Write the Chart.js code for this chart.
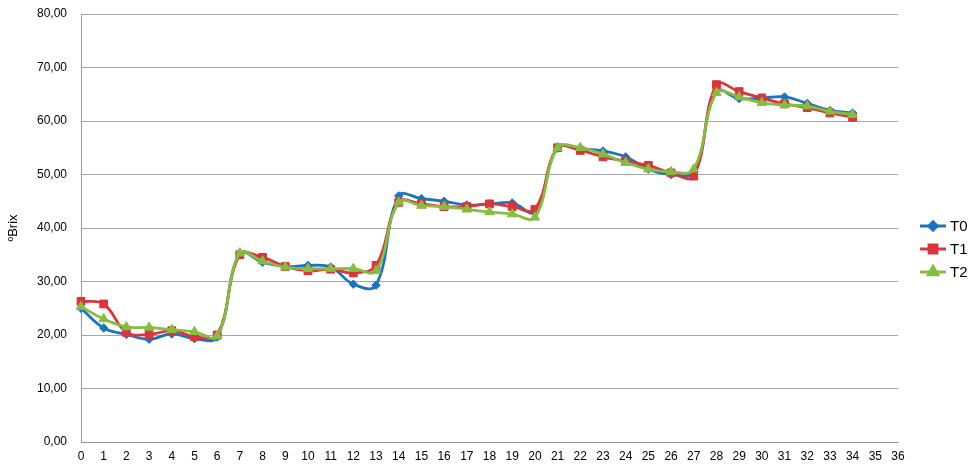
<!DOCTYPE html>
<html>
<head>
<meta charset="utf-8">
<script src="https://cdn.jsdelivr.net/npm/chart.js@4.4.0/dist/chart.umd.min.js"></script>
<style>
html,body{margin:0;padding:0;background:#fff;}
#wrap{width:979px;height:467px;position:relative;}
</style>
</head>
<body>
<div id="wrap"><canvas id="c" width="979" height="467"></canvas></div>
<script>
const categories = ['0','1','2','3','4','5','6','7','8','9','10','11','12','13','14','15','16','17','18','19','20','21','22','23','24','25','26','27','28','29','30','31','32','33','34','35','36'];
const seriesNames = ['T0','T1','T2'];
const t0 = [25.0,21.3,20.1,19.2,20.2,19.3,19.6,35.3,33.6,32.8,33.0,32.7,29.5,29.3,46.0,45.5,45.0,44.3,44.5,44.7,43.0,55.0,54.8,54.4,53.3,51.0,50.0,50.5,65.5,64.2,64.3,64.5,63.3,62.0,61.5];
const t1 = [26.3,25.8,20.5,20.1,20.8,19.7,20.0,35.0,34.5,32.8,32.0,32.3,31.6,33.0,44.8,44.5,44.0,44.0,44.5,44.0,43.5,55.0,54.5,53.3,52.5,51.7,50.3,49.7,66.8,65.5,64.3,63.2,62.5,61.5,60.7];
const t2 = [25.3,23.0,21.5,21.4,21.0,20.6,19.8,35.3,33.8,32.7,32.4,32.4,32.4,32.0,44.8,44.2,44.0,43.5,43.0,42.6,42.0,55.0,55.0,53.8,52.2,51.0,50.5,51.0,65.3,64.5,63.4,63.0,62.8,61.8,61.2];
const yMin = 0, yMax = 80, yStep = 10;
const yTitle = 'ºBrix';

const colors = ['#1d74bd','#d8353d','#86bd41'];
const styles = ['rectRot','rect','triangle'];
const radii = [4.2,5.5,5.5];
const orders = [3,2,1];
const allData = [t0,t1,t2];

const legendPlugin = {
  id:'customLegend',
  afterDraw(chart){
    const ctx = chart.ctx;
    const x0 = 920, x1 = 946, tx = 950;
    const ys = [226,249,272];
    chart.data.datasets.forEach((ds,i)=>{
      const y = ys[i];
      ctx.save();
      ctx.strokeStyle = ds.borderColor;
      ctx.lineWidth = 3;
      ctx.beginPath(); ctx.moveTo(x0,y); ctx.lineTo(x1,y); ctx.stroke();
      ctx.fillStyle = ds.borderColor; ctx.strokeStyle = ds.borderColor;
      Chart.helpers.drawPoint(ctx,{pointStyle:ds.pointStyle,radius:ds.pointRadius,borderWidth:1},(x0+x1)/2,y);
      ctx.fillStyle = '#000';
      ctx.font = '15px "Liberation Sans", Arial, sans-serif';
      ctx.textBaseline = 'middle';
      ctx.fillText(ds.label, tx, y+1);
      ctx.restore();
    });
  }
};

new Chart(document.getElementById('c'),{
  type:'line',
  data:{
    labels:categories,
    datasets:seriesNames.map((n,i)=>({
      label:n,
      data:allData[i],
      borderColor:colors[i],
      backgroundColor:colors[i],
      pointBackgroundColor:colors[i],
      pointBorderColor:colors[i],
      pointStyle:styles[i],
      pointRadius:radii[i],
      pointBorderWidth:1,
      borderWidth:2.8,
      tension:0.4,
      fill:false,
      order:orders[i]
    }))
  },
  options:{
    responsive:false,
    animation:false,
    devicePixelRatio:1,
    layout:{autoPadding:false,padding:{left:0,right:81,top:14,bottom:0}},
    plugins:{legend:{display:false},tooltip:{enabled:false}},
    scales:{
      x:{
        type:'category',
        offset:false,
        grid:{display:false,drawTicks:true,tickLength:4,color:'#9a9a9a'},
        border:{color:'#9a9a9a',width:1},
        ticks:{color:'#000',font:{family:'"Liberation Sans", Arial, sans-serif',size:12},maxRotation:0,autoSkip:false,padding:3},
        afterFit(s){s.height=25; s.paddingLeft=0; s.paddingRight=0;}
      },
      y:{
        min:yMin,max:yMax,
        ticks:{stepSize:yStep,color:'#000',padding:14,font:{family:'"Liberation Sans", Arial, sans-serif',size:12},
          callback:v=>v.toFixed(2).replace('.',',')},
        grid:{color:'#a6a6a6',lineWidth:1,drawTicks:false},
        border:{color:'#9a9a9a',width:1},
        title:{display:true,text:yTitle,color:'#000',font:{family:'"Liberation Sans", Arial, sans-serif',size:13},padding:{top:6,bottom:0}},
        afterFit(s){s.width=81; s.paddingTop=0; s.paddingBottom=0;}
      }
    }
  },
  plugins:[legendPlugin]
});
</script>
</body>
</html>
